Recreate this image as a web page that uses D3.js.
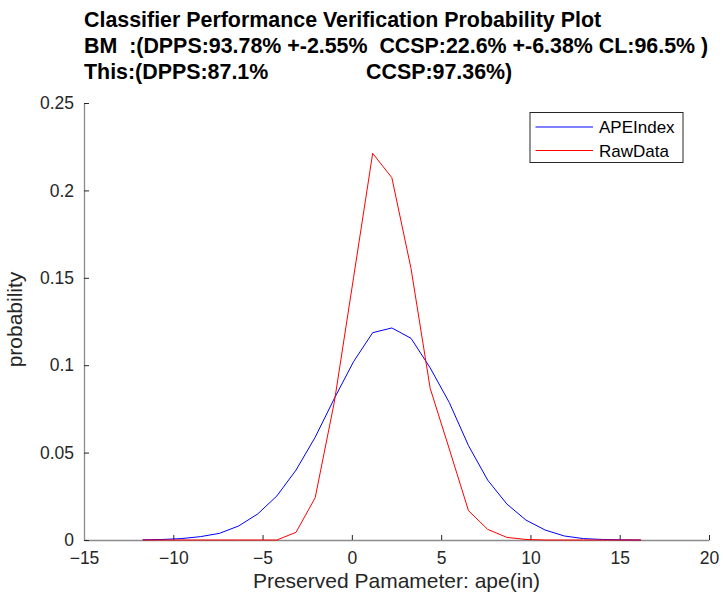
<!DOCTYPE html>
<html>
<head>
<meta charset="utf-8">
<script src="https://cdn.jsdelivr.net/npm/d3@7"></script>
<style>
  body { margin: 0; background: #fff; }
  text { font-family: "Liberation Sans", Arial, sans-serif; }
</style>
</head>
<body>
<div id="chart"></div>
<script>
// sample positions (shared by both series)
const xStart = -11.71, xStep = 1.073;
const xValues = d3.range(27).map(i => xStart + i * xStep);

const apeIndex = [0.0001, 0.0003, 0.0008, 0.0019, 0.0038, 0.008, 0.0149, 0.0252, 0.040, 0.0588,
                  0.081, 0.102, 0.1186, 0.1213, 0.1154, 0.0985, 0.0786, 0.054, 0.0343, 0.0206,
                  0.0114, 0.0057, 0.0023, 0.0008, 0.0003, 0.0001, 0];
const rawData  = [0, 0, 0, 0, 0, 0, 0, 0, 0.0044, 0.0242,
                  0.079, 0.150, 0.2212, 0.2073, 0.1554, 0.0868, 0.052, 0.0168, 0.0061, 0.0015,
                  0.0003, 0, 0, 0, 0, 0, 0];

const xTicks = [-15, -10, -5, 0, 5, 10, 15, 20];
const yTicks = [0, 0.05, 0.1, 0.15, 0.2, 0.25];

const titleLines = [
    "Classifier Performance Verification Probability Plot",
    "BM  :(DPPS:93.78% +-2.55%  CCSP:22.6% +-6.38% CL:96.5% )"
];
const titleLine3 = ["This:(DPPS:87.1%", "CCSP:97.36%)"];

const series = [
    { name: "APEIndex", values: apeIndex, color: "#0000ff" },
    { name: "RawData",  values: rawData,  color: "#ff0000" }
];

const W = 723, H = 602;
const margin = { top: 103, right: 14, bottom: 62, left: 84 };
const width = W - margin.left - margin.right;
const height = H - margin.top - margin.bottom;

const svg = d3.select("#chart").append("svg")
    .attr("width", W)
    .attr("height", H);

const g = svg.append("g")
    .attr("transform", `translate(${margin.left},${margin.top})`);

const x = d3.scaleLinear().domain([-15, 20]).range([0, width]);
const y = d3.scaleLinear().domain([0, 0.25]).range([height, 0]);

// axes (MATLAB style: ticks pointing inward)
const xAxis = g.append("g")
    .attr("transform", `translate(0,${height})`)
    .call(d3.axisBottom(x).tickValues(xTicks).tickSizeInner(-5).tickSizeOuter(0).tickPadding(12)
        .tickFormat(d3.format("d")));
const yAxis = g.append("g")
    .call(d3.axisLeft(y).tickValues(yTicks).tickSizeInner(-5).tickSizeOuter(0).tickPadding(10)
        .tickFormat(d => d === 0 ? "0" : String(d)));

[xAxis, yAxis].forEach(a => {
    a.select(".domain").attr("stroke", "#8c8c8c").attr("stroke-width", 1.3);
    a.selectAll(".tick line").attr("stroke", "#262626");
    a.selectAll(".tick text")
        .attr("fill", "#262626")
        .style("font-size", "17.5px")
        .style("font-family", "'Liberation Sans', Arial, sans-serif");
});

// lines
const line = d3.line()
    .x((d, i) => x(xValues[i]))
    .y(d => y(d));

series.forEach(s => {
    g.append("path")
        .datum(s.values)
        .attr("fill", "none")
        .attr("stroke", s.color)
        .attr("stroke-width", 1)
        .attr("d", line);
});

// axis labels
g.append("text")
    .attr("x", width / 2)
    .attr("y", height + 48)
    .attr("text-anchor", "middle")
    .attr("fill", "#262626")
    .style("font-size", "21px")
    .text("Preserved Pamameter: ape(in)");

g.append("text")
    .attr("transform", `translate(${-62},${height / 2 - 2}) rotate(-90)`)
    .attr("text-anchor", "middle")
    .attr("fill", "#262626")
    .style("font-size", "21px")
    .text("probability");

// title
const title = svg.append("g").attr("font-weight", "bold").style("font-size", "21.4px");
titleLines.forEach((t, i) => {
    title.append("text")
        .attr("x", margin.left)
        .attr("y", 27 + i * 26)
        .attr("fill", "#000")
        .style("white-space", "pre")
        .text(t);
});
const t3 = title.append("text").attr("y", 79).attr("fill", "#000");
t3.append("tspan").attr("x", margin.left).text(titleLine3[0]);
t3.append("tspan").attr("x", 366).text(titleLine3[1]);

// legend
const legend = svg.append("g").attr("transform", "translate(530,112.5)");
legend.append("rect")
    .attr("width", 153)
    .attr("height", 50)
    .attr("fill", "#fff")
    .attr("stroke", "#262626")
    .attr("stroke-width", 1);
series.forEach((s, i) => {
    const ly = 14.5 + i * 23.5;
    legend.append("line")
        .attr("x1", 5.5).attr("x2", 63)
        .attr("y1", ly).attr("y2", ly)
        .attr("stroke", s.color)
        .attr("stroke-width", 1);
    legend.append("text")
        .attr("x", 69)
        .attr("y", ly + 6)
        .attr("fill", "#000")
        .style("font-size", "17px")
        .text(s.name);
});
</script>
</body>
</html>
